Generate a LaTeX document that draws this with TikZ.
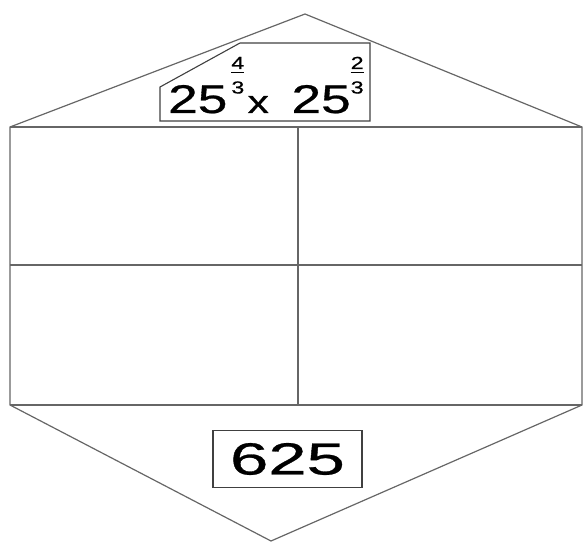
\documentclass[tikz,border=0pt]{standalone}
\usepackage{fontspec}
\setmainfont{Liberation Sans}
\newfontfamily\heavy[FakeBold=0.6]{Liberation Sans}
\usepackage{tikz}

% stacked fraction used as an exponent (bar and both digits placed by hand)
\newcommand\expfrac[2]{{\fontsize{17.5}{17.5}\selectfont
  \rlap{\raisebox{44pt}{#1}}\rlap{\raisebox{40pt}{\rule{0.556em}{0.8pt}}}\raisebox{19.5pt}{#2}}}

\begin{document}
\begin{tikzpicture}[
  x=1pt, y=-1pt,
  every node/.style={font=\heavy\fontsize{40}{40}\selectfont},
  edge/.style={draw=black!60, line width=1.2pt},
  frame/.style={draw=black!75, line width=1.1pt}
]
\useasboundingbox (0,0) rectangle (584,543);
\coordinate (apex) at (305,14);
\coordinate (tl) at (10,127);
\coordinate (tr) at (582,127);
\coordinate (ml) at (10,265);
\coordinate (mr) at (582,265);
\coordinate (bl) at (10,405);
\coordinate (br) at (582,405);
\coordinate (tm) at (298,127);
\coordinate (bm) at (298,405);
\coordinate (bot) at (271,541);
% outline and grid
\draw[edge] (tl) -- (apex) -- (tr) -- (br) -- (bot) -- (bl) -- cycle;
\draw[edge] (tl) -- (tr);
\draw[edge] (ml) -- (mr);
\draw[edge] (bl) -- (br);
\draw[edge] (tm) -- (bm);
% expression in the roof
\node[anchor=base west, inner sep=0pt] (expr) at (168,113)
  {\scalebox{1.33}[1]{25\hspace{3pt}\expfrac{4}{3}\hspace{2.5pt}{\fontsize{32}{32}\selectfont x}\hspace{17pt}25\expfrac{2}{3}}};
\draw[frame] (240,43) -- (370,43) -- (370,121) -- (160,121) -- (160,87) -- cycle;
% answer in the base
\node[frame, minimum width=149pt, minimum height=57pt, inner sep=0pt] (result) at (287.5,459)
  {\fontsize{45}{45}\selectfont\scalebox{1.53}[1]{625}};
\end{tikzpicture}
\end{document}
